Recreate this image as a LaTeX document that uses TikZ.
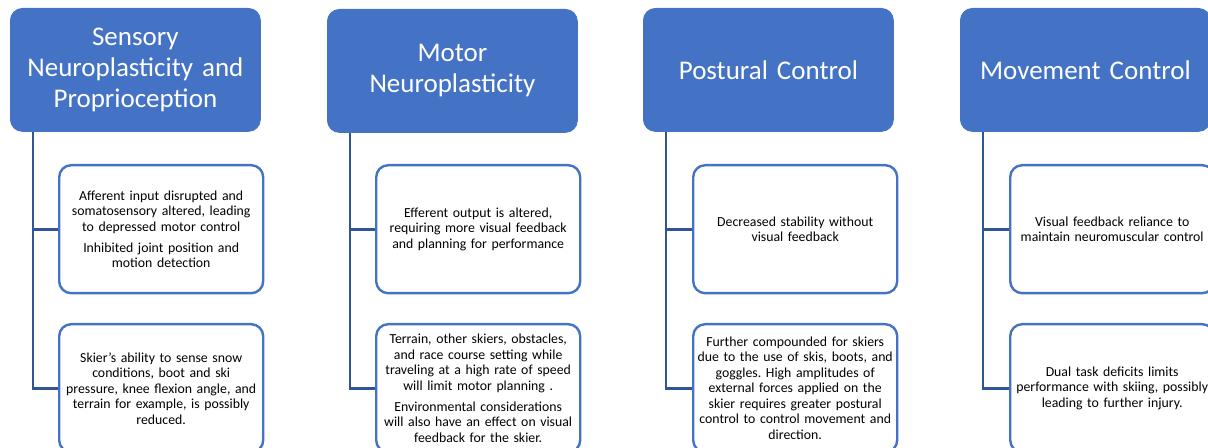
\documentclass[tikz,border=0pt]{standalone}
\usepackage{fontspec}
\setmainfont{Carlito}
\usetikzlibrary{positioning}
\definecolor{hdrblue}{HTML}{4472C4}
\definecolor{linkblue}{HTML}{2F5597}
\frenchspacing

\tikzset{
  hdr/.style={anchor=north west, rectangle, rounded corners=6pt, fill=hdrblue,
    draw=hdrblue, text=white, minimum width=125pt, minimum height=61.5pt,
    text width=124pt, align=center, inner sep=0pt,
    font=\fontsize{13.5pt}{15.5pt}\selectfont},
  item/.style={anchor=north west, rectangle, rounded corners=6pt, draw=hdrblue,
    line width=1.2pt, fill=white, minimum width=102pt, minimum height=64pt,
    text width=101pt, align=center, inner sep=0pt,
    font=\fontsize{6.9pt}{7.75pt}\selectfont},
  link/.style={draw=linkblue, line width=1.4pt}
}

\begin{document}
\begin{tikzpicture}[x=0.5pt,y=-0.5pt]
\clip (0,0) rectangle (1208,448);
\useasboundingbox (0,0) rectangle (1208,448);

% headers
\node[hdr] (h1) at (10,8)   {Sensory\\Neuroplasticity and\\Proprioception};
\node[hdr] (h2) at (327,9)  {Motor\\Neuroplasticity};
\node[hdr] (h3) at (643,8)  {Postural Control};
\node[hdr] (h4) at (960,8)  {Movement Control};

% items
\node[item] (it1-1) at (58,164)  {Afferent input disrupted and\\somatosensory altered, leading\\to depressed motor control\\[2.75pt]
  Inhibited joint position and\\motion detection};
\node[item] (it1-2) at (58,323)  {Skier's ability to sense snow\\conditions, boot and ski\\pressure, knee flexion angle, and\\terrain for example, is possibly\\reduced.};
\node[item] (it2-1) at (375,164) {Efferent output is altered,\\requiring more visual feedback\\and planning for performance};
\node[item] (it2-2) at (375,323) {Terrain, other skiers, obstacles,\\and race course setting while\\traveling at a high rate of speed\\will limit motor planning .\\[2.75pt]
  Environmental considerations\\will also have an effect on visual\\feedback for the skier.};
\node[item] (it3-1) at (692,164) {Decreased stability without\\visual feedback};
\node[item] (it3-2) at (692,323) {Further compounded for skiers\\due to the use of skis, boots, and\\goggles. High amplitudes of\\external forces applied on the\\skier requires greater postural\\control to control movement and\\direction.};
\node[item] (it4-1) at (1009,164) {Visual feedback reliance to\\maintain neuromuscular control};
\node[item] (it4-2) at (1009,323) {Dual task deficits limits\\performance with skiing, possibly\\leading to further injury.};

% connectors
\foreach \c in {1,...,4} {
  \draw[link] ([xshift=11.5pt]h\c.south west) |- (it\c-1.west);
  \draw[link] ([xshift=11.5pt]h\c.south west) |- (it\c-2.west);
}
\end{tikzpicture}
\end{document}
